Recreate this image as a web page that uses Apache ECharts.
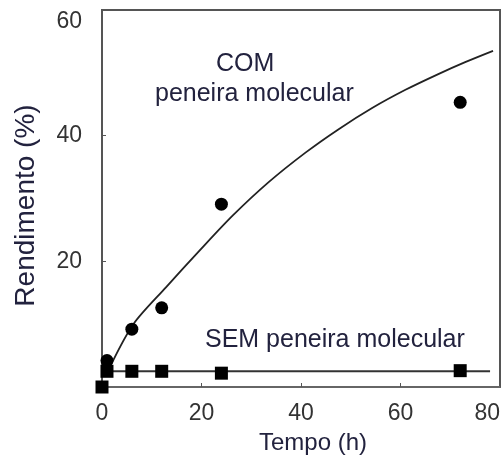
<!DOCTYPE html>
<html>
<head>
<meta charset="utf-8">
<script src="https://cdn.jsdelivr.net/npm/echarts@6/dist/echarts.min.js"></script>
<style>html,body{margin:0;padding:0;background:#fff}#c{width:503px;height:464px}</style>
</head>
<body>
<div id="c"></div>
<script>
// Data
var xTicks = [0, 20, 40, 60, 80];
var yTicks = [0, 20, 40, 60];
var comPoints = [[1, 4.2], [6, 9.2], [12, 12.6], [24, 29.1], [72, 45.3]];
var comCurve = [[1.6, 3.2], [6.3, 10], [12.9, 15.9], [19.6, 21.7], [26.3, 27.3], [33.5, 32.6], [40.9, 37.3], [47.5, 41], [54.3, 44.4], [61, 47.3], [67.6, 49.8], [73, 51.7], [78.6, 53.5]];
var semPoints = [[0, 0], [1, 2.5], [6, 2.5], [12, 2.5], [24, 2.2], [72, 2.6]];
var semLine = [[1, 2.5], [78, 2.5]];
var comLabel1 = 'COM';
var comLabel2 = 'peneira molecular';
var semLabel = 'SEM peneira molecular';
var xName = 'Tempo (h)';
var yName = 'Rendimento (%)';

var chart = echarts.init(document.getElementById('c'), null, {renderer: 'canvas'});
var font = 'Liberation Sans, Arial, sans-serif';
var titleColor = '#22223e';
chart.setOption({
  animation: false,
  backgroundColor: '#fff',
  grid: {left: 102, right: 2, top: 10, bottom: 77, show: true, borderColor: '#555', borderWidth: 2},
  xAxis: {
    type: 'value', min: xTicks[0], max: xTicks[xTicks.length - 1], interval: 20,
    name: xName, nameLocation: 'middle', nameGap: 44,
    nameTextStyle: {fontFamily: font, fontSize: 24, color: titleColor, padding: [0, 0, 0, 24]},
    axisLine: {show: true, lineStyle: {color: '#666', width: 2}},
    axisTick: {show: true, inside: true, length: 4, lineStyle: {color: '#555'}},
    splitLine: {show: false},
    axisLabel: {fontFamily: font, fontSize: 23, color: '#333', margin: 15, alignMaxLabel: 'right'}
  },
  yAxis: {
    type: 'value', min: yTicks[0], max: yTicks[yTicks.length - 1], interval: 20,
    name: yName, nameLocation: 'middle', nameGap: 62, nameRotate: 90,
    nameTextStyle: {fontFamily: font, fontSize: 28, color: titleColor, padding: [0, 14, 0, 0]},
    axisLine: {show: true, lineStyle: {color: '#555', width: 2}},
    axisTick: {show: true, inside: true, length: 4, lineStyle: {color: '#555'}},
    splitLine: {show: false},
    axisLabel: {fontFamily: font, fontSize: 23, color: '#333', margin: 20,
      formatter: function (v) { return v === 0 ? '' : String(v); },
      verticalAlignMaxLabel: 'top'}
  },
  graphic: [
    {type: 'text', left: 216, top: 52, style: {text: comLabel1, font: '25px ' + font, fill: titleColor}},
    {type: 'text', left: 155, top: 82, style: {text: comLabel2, font: '25px ' + font, fill: titleColor}},
    {type: 'text', left: 205, top: 328, style: {text: semLabel, font: '25px ' + font, fill: titleColor}}
  ],
  series: [
    {type: 'line', data: comCurve, smooth: 0.3, showSymbol: false, lineStyle: {color: '#222', width: 1.8}, z: 2},
    {type: 'line', data: semLine, showSymbol: false, lineStyle: {color: '#333', width: 2}, z: 2},
    {type: 'scatter', data: comPoints, symbol: 'circle', symbolSize: 13, itemStyle: {color: '#000', opacity: 1}, z: 3},
    {type: 'scatter', data: semPoints, symbol: 'rect', symbolSize: 13, itemStyle: {color: '#000', opacity: 1}, z: 3}
  ]
});
</script>
</body>
</html>
